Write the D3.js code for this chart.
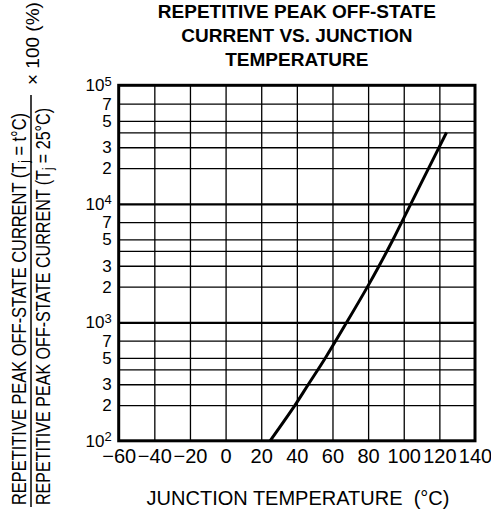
<!DOCTYPE html>
<html>
<head>
<meta charset="utf-8" />
<title>Repetitive peak off-state current vs. junction temperature</title>
<script src="https://d3js.org/d3.v7.min.js"></script>
<style>
  body { margin: 0; background: #fff; }
  svg { display: block; font-family: "Liberation Sans", Arial, Helvetica, sans-serif; }
  .grid line { stroke: #000; stroke-width: 1.3px; }
  .grid .domain { display: none; }
  .decade line { stroke-width: 2.2px; }
  .ticks .domain, .ticks line { display: none; }
  .ticks text { fill: #000; font-family: "Liberation Sans", Arial, Helvetica, sans-serif; }
  .curve { fill: none; stroke: #000; stroke-width: 3px; }
</style>
</head>
<body>
<div id="chart"></div>
<script>
// curve: junction temperature (degC) and ratio (%)
var temps = [25, 39, 46.5, 56, 68, 79.7, 86.2, 94, 104, 114, 124];
var ratio = [100, 200, 300, 500, 1000, 2000, 3000, 5000, 10000, 20000, 40000];

var xTicks = [-60, -40, -20, 0, 20, 40, 60, 80, 100, 120, 140];
var xGrid = [-40, -20, 0, 20, 40, 60, 80, 100, 120];
var yDecades = [1000, 10000];
var yMinor = [200, 300, 400, 500, 700, 2000, 3000, 4000, 5000, 7000,
              20000, 30000, 40000, 50000, 70000];
var yLabels = [100, 200, 300, 500, 700, 1000, 2000, 3000, 5000, 7000,
               10000, 20000, 30000, 50000, 70000, 100000];

var titleLines = ["REPETITIVE PEAK OFF-STATE", "CURRENT VS. JUNCTION", "TEMPERATURE"];
var xTitle = "JUNCTION TEMPERATURE\u00a0 (\u00b0C)";

var width = 491, height = 515;
var pL = 118.7, pR = 475, pT = 85.3, pB = 440.8;

var svg = d3.select("#chart").append("svg")
    .attr("width", width)
    .attr("height", height);

var x = d3.scaleLinear().domain([-60, 140]).range([pL, pR]);
var y = d3.scaleLog().domain([100, 100000]).range([pB, pT]);

// grid
svg.append("g").attr("class", "grid")
    .attr("transform", "translate(0," + pB + ")")
    .call(d3.axisBottom(x).tickValues(xGrid).tickSize(-(pB - pT)).tickFormat(""));
svg.append("g").attr("class", "grid")
    .attr("transform", "translate(" + pL + ",0)")
    .call(d3.axisLeft(y).tickValues(yMinor).tickSize(-(pR - pL)).tickFormat(""));
svg.append("g").attr("class", "grid decade")
    .attr("transform", "translate(" + pL + ",0)")
    .call(d3.axisLeft(y).tickValues(yDecades).tickSize(-(pR - pL)).tickFormat(""));

// frame
svg.append("rect")
    .attr("x", pL).attr("y", pT)
    .attr("width", pR - pL).attr("height", pB - pT)
    .attr("fill", "none").attr("stroke", "#000").attr("stroke-width", 3);

// curve
var line = d3.line()
    .x(function(d, i) { return x(temps[i]); })
    .y(function(d) { return y(d); })
    .curve(d3.curveCatmullRom.alpha(0.5));
svg.append("path").datum(ratio).attr("class", "curve").attr("d", line);

// x tick labels
var xa = svg.append("g").attr("class", "ticks")
    .attr("transform", "translate(0," + pB + ")")
    .call(d3.axisBottom(x).tickValues(xTicks).tickSize(0).tickPadding(8));
xa.selectAll("text").attr("font-size", 20);

// y tick labels, decades as powers of ten
var ya = svg.append("g").attr("class", "ticks")
    .attr("transform", "translate(" + pL + ",0)")
    .call(d3.axisLeft(y).tickValues(yLabels).tickSize(0).tickPadding(7)
        .tickFormat(function(d) {
            var e = Math.round(Math.log10(d));
            return Math.abs(d - Math.pow(10, e)) < 1e-6 ? "10" : String(d / Math.pow(10, Math.floor(Math.log10(d))));
        }));
ya.selectAll("text").attr("font-size", 17).each(function(d) {
    var e = Math.round(Math.log10(d));
    if (Math.abs(d - Math.pow(10, e)) < 1e-6) {
        d3.select(this).append("tspan")
            .attr("dy", "-0.42em")
            .attr("font-size", 13)
            .text(e);
    }
});

// title
svg.append("g").selectAll("text")
    .data(titleLines)
    .enter().append("text")
    .attr("x", (pL + pR) / 2)
    .attr("y", function(d, i) { return 18 + i * 24; })
    .attr("text-anchor", "middle")
    .attr("font-size", 19)
    .attr("font-weight", "bold")
    .text(function(d) { return d; });

// x axis title
svg.append("text")
    .attr("x", 298).attr("y", 505)
    .attr("text-anchor", "middle")
    .attr("font-size", 20)
    .text(xTitle);

// y axis title: a fraction times 100 (%)
function fracLine(xpos, len, sub) {
    var t = svg.append("text")
        .attr("transform", "translate(" + xpos + ",505) rotate(-90)")
        .attr("font-size", 20)
        .attr("textLength", len)
        .attr("lengthAdjust", "spacingAndGlyphs");
    t.append("tspan").text("REPETITIVE PEAK OFF-STATE CURRENT (T");
    t.append("tspan").attr("font-size", 14).attr("dy", 3).text("j");
    t.append("tspan").attr("dy", -3).text(" = " + sub + ")");
}
fracLine(26, 392, "t\u00b0C");
fracLine(50, 397, "25\u00b0C");

svg.append("line")
    .attr("x1", 31).attr("x2", 31)
    .attr("y1", 95).attr("y2", 507)
    .attr("stroke", "#000").attr("stroke-width", 1.5);

svg.append("text")
    .attr("transform", "translate(39,85) rotate(-90)")
    .attr("font-size", 19)
    .text("\u00d7 100 (%)");
</script>
</body>
</html>
